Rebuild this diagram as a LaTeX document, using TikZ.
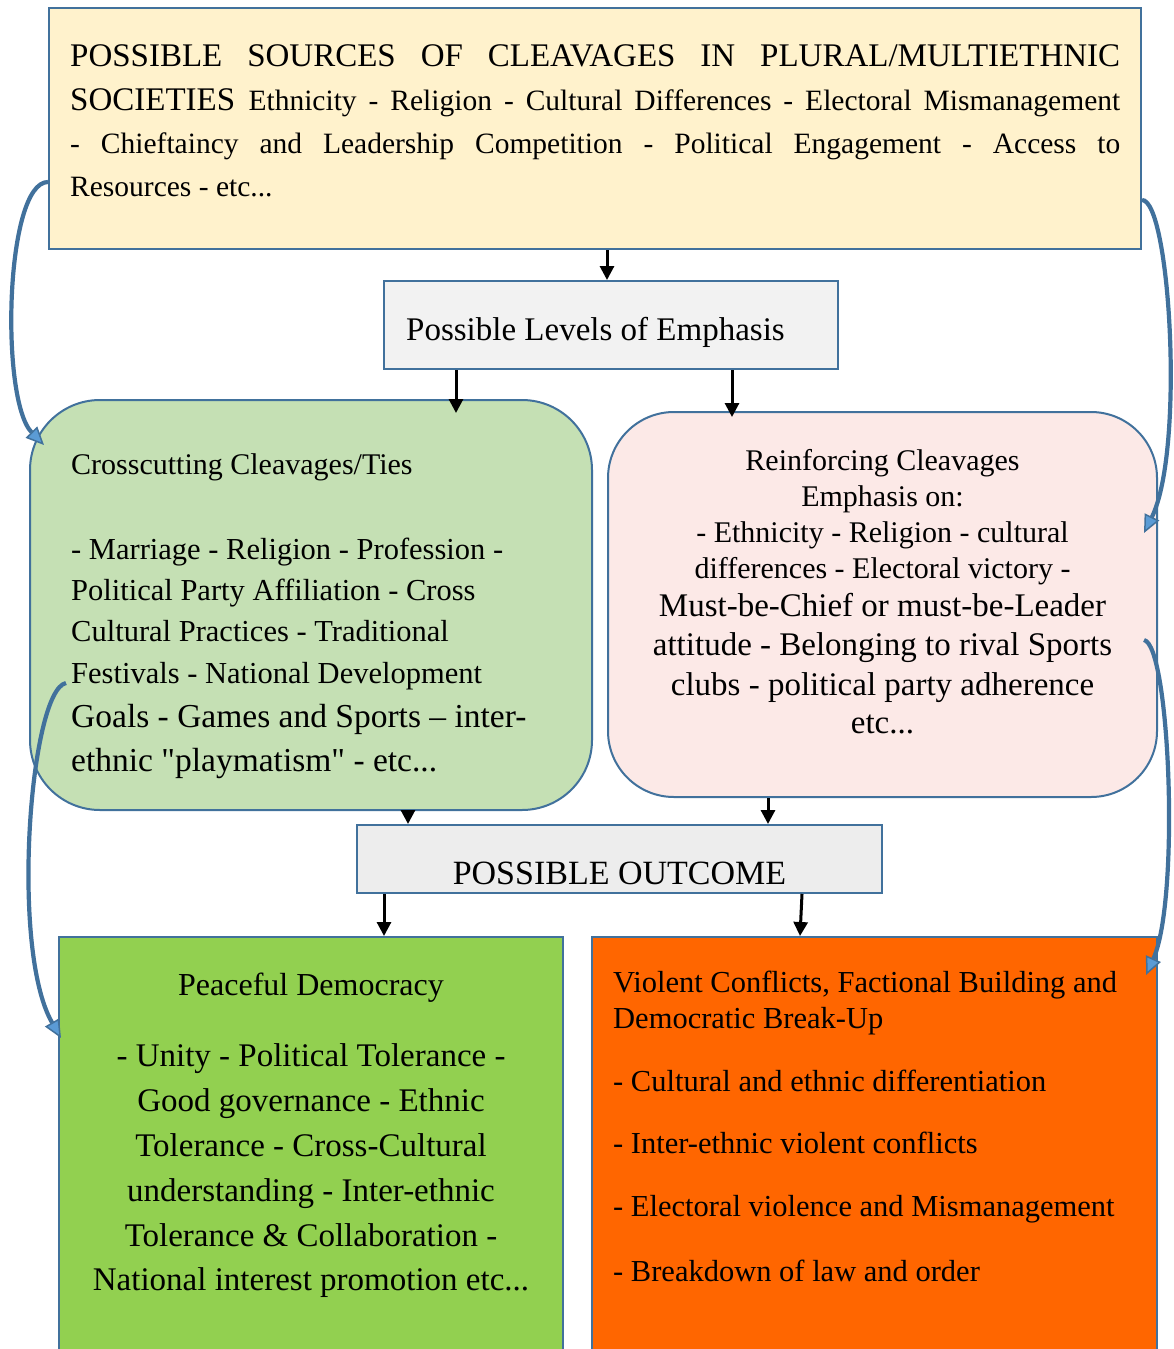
\documentclass[tikz,border=0pt]{standalone}
\usepackage{fontspec}
\setmainfont{Liberation Serif}[Ligatures=TeXOff]
\usetikzlibrary{arrows.meta,calc}
\definecolor{bord}{HTML}{41719C}
\definecolor{topY}{HTML}{FFF2CC}
\definecolor{emphG}{HTML}{F2F2F2}
\definecolor{greenL}{HTML}{C5E0B4}
\definecolor{pinkL}{HTML}{FCE9E7}
\definecolor{outG}{HTML}{EDEDED}
\definecolor{greenD}{HTML}{92D050}
\definecolor{orangeV}{HTML}{FF6600}
\definecolor{blueL}{HTML}{5B9BD5}
\newcommand\fs[1]{\fontsize{#1}{#1}\selectfont}
\tikzset{
  bx/.style={draw=bord, line width=2pt, inner sep=0pt},
  arr/.style={line width=3pt, -{Triangle[length=14pt,width=14pt]}},
  curv/.style={draw=bord, line width=4.2pt, -{Triangle[length=18pt,width=16pt,fill=blueL,line width=1.5pt]}},
  txt/.style={inner sep=0pt, anchor=base west},
  ctxt/.style={inner sep=0pt, anchor=base},
}
\begin{document}
\begin{tikzpicture}[x=1pt,y=-1pt]
\useasboundingbox (0,0) rectangle (1174,1349);
\clip (0,0) rectangle (1174,1349);
\fill[white] (0,0) rectangle (1174,1349);

% boxes
\node[bx, fill=topY, minimum width=1092pt, minimum height=241pt] (top) at (595,128.5) {};
\node[bx, fill=emphG, minimum width=454pt, minimum height=88pt] (emph) at (611,325) {};
\node[bx, fill=greenL, rounded corners=70pt, minimum width=562pt, minimum height=410pt] (green) at (311,605) {};
\node[bx, fill=pinkL, rounded corners=66pt, minimum width=549pt, minimum height=385pt] (pink) at (882.5,604.5) {};
\node[bx, fill=outG, minimum width=525pt, minimum height=68pt] (outc) at (619.5,859) {};
\node[bx, fill=greenD, minimum width=504pt, minimum height=430pt] (peace) at (311,1152) {};
\node[bx, fill=orangeV, minimum width=565pt, minimum height=430pt] (viol) at (874.5,1152) {};

% top text
\node[txt] (t1) at (70,66) {\makebox[1050pt][s]{\fs{33}POSSIBLE SOURCES OF CLEAVAGES IN PLURAL/MULTIETHNIC}};
\node[txt] (t2) at (70,110) {\makebox[1050pt][s]{\fs{33}SOCIETIES \fs{29.5}Ethnicity - Religion - Cultural Differences - Electoral Mismanagement}};
\node[txt] (t3) at (70,153) {\makebox[1050pt][s]{\fs{29.5}- Chieftaincy and Leadership Competition - Political Engagement - Access to}};
\node[txt] (t4) at (70,196) {\fs{29.5}Resources - etc...};

% emphasis
\node[txt] (e1) at (406,340) {\fs{33}Possible Levels of Emphasis};

% green text
\node[txt] (g0) at (71,474) {\fs{30}Crosscutting Cleavages/Ties};
\node[txt] (g1) at (71,559) {\fs{30.5}- Marriage - Religion - Profession -};
\node[txt] (g2) at (71,600) {\fs{30.5}Political Party Affiliation - Cross};
\node[txt] (g3) at (71,641) {\fs{30.5}Cultural Practices - Traditional};
\node[txt] (g4) at (71,683) {\fs{30.5}Festivals - National Development};
\node[txt] (g5) at (71,727) {\fs{33.5}Goals - Games and Sports – inter-};
\node[txt] (g6) at (71,771) {\fs{33.5}ethnic "playmatism" - etc...};

% pink text
\node[ctxt] (p1) at (882.5,470) {\fs{30}Reinforcing Cleavages};
\node[ctxt] (p2) at (882.5,506) {\fs{30}Emphasis on:};
\node[ctxt] (p3) at (882.5,542) {\fs{30}- Ethnicity - Religion - cultural};
\node[ctxt] (p4) at (882.5,578) {\fs{30}differences - Electoral victory -};
\node[ctxt] (p5) at (882.5,616) {\fs{33}Must-be-Chief or must-be-Leader};
\node[ctxt] (p6) at (882.5,655) {\fs{33}attitude - Belonging to rival Sports};
\node[ctxt] (p7) at (882.5,695) {\fs{33}clubs - political party adherence};
\node[ctxt] (p8) at (882.5,733) {\fs{33}etc...};

% outcome
\node[ctxt] (o1) at (619.5,884) {\fs{34}POSSIBLE OUTCOME};

% peaceful
\node[ctxt] (d0) at (311,995) {\fs{32}Peaceful Democracy};
\node[ctxt] (d1) at (311,1066) {\fs{33}- Unity - Political Tolerance -};
\node[ctxt] (d2) at (311,1111) {\fs{33}Good governance - Ethnic};
\node[ctxt] (d3) at (311,1156) {\fs{33}Tolerance - Cross-Cultural};
\node[ctxt] (d4) at (311,1201) {\fs{33}understanding - Inter-ethnic};
\node[ctxt] (d5) at (311,1246) {\fs{33}Tolerance \& Collaboration -};
\node[ctxt] (d6) at (311,1290) {\fs{33}National interest promotion etc...};

% violent
\node[txt] (v0) at (613,992) {\fs{30.5}Violent Conflicts, Factional Building and};
\node[txt] (v1) at (613,1028) {\fs{30.5}Democratic Break-Up};
\node[txt] (v2) at (613,1091) {\fs{30.5}- Cultural and ethnic differentiation};
\node[txt] (v3) at (613,1153) {\fs{30.5}- Inter-ethnic violent conflicts};
\node[txt] (v4) at (613,1216) {\fs{30.5}- Electoral violence and Mismanagement};
\node[txt] (v5) at (613,1281) {\fs{30.5}- Breakdown of law and order};

% black arrows
\draw[arr] ([xshift=12pt]top.south) -- ([xshift=-4pt]emph.north);
\draw[arr] ([xshift=-155pt]emph.south) -- ([xshift=145pt,yshift=-14pt]green.north);
\draw[arr] ([xshift=121pt]emph.south) -- ([xshift=-150.5pt,yshift=-6pt]pink.north);
\draw[arr] ([xshift=97pt]green.south) -- ([xshift=-211.5pt]outc.north);
\draw[arr] ([xshift=-114.5pt]pink.south) -- ([xshift=148.5pt]outc.north);
\draw[arr] ([xshift=-235.5pt]outc.south) -- ([xshift=73pt]peace.north);
\draw[arr] ([xshift=182.5pt]outc.south) -- ([xshift=-74.5pt]viol.north);

% curved connectors
\draw[curv] ($(top.west)+(0,53.5)$) .. controls (5,182) and (0,400) .. ($(green.west)+(15,-160)$);
\draw[curv] ($(top.east)+(0,71.5)$) .. controls (1170,200) and (1185,450) .. ($(pink.east)+(-14,-71.5)$);
\draw[curv] ($(green.west)+(37,78)$) .. controls (30,690) and (10,950) .. ($(peace.west)+(3,-114)$);
\draw[curv] ($(pink.east)+(-14,35.5)$) .. controls (1170,645) and (1180,900) .. ($(viol.east)+(-12,-177)$);
\end{tikzpicture}
\end{document}
